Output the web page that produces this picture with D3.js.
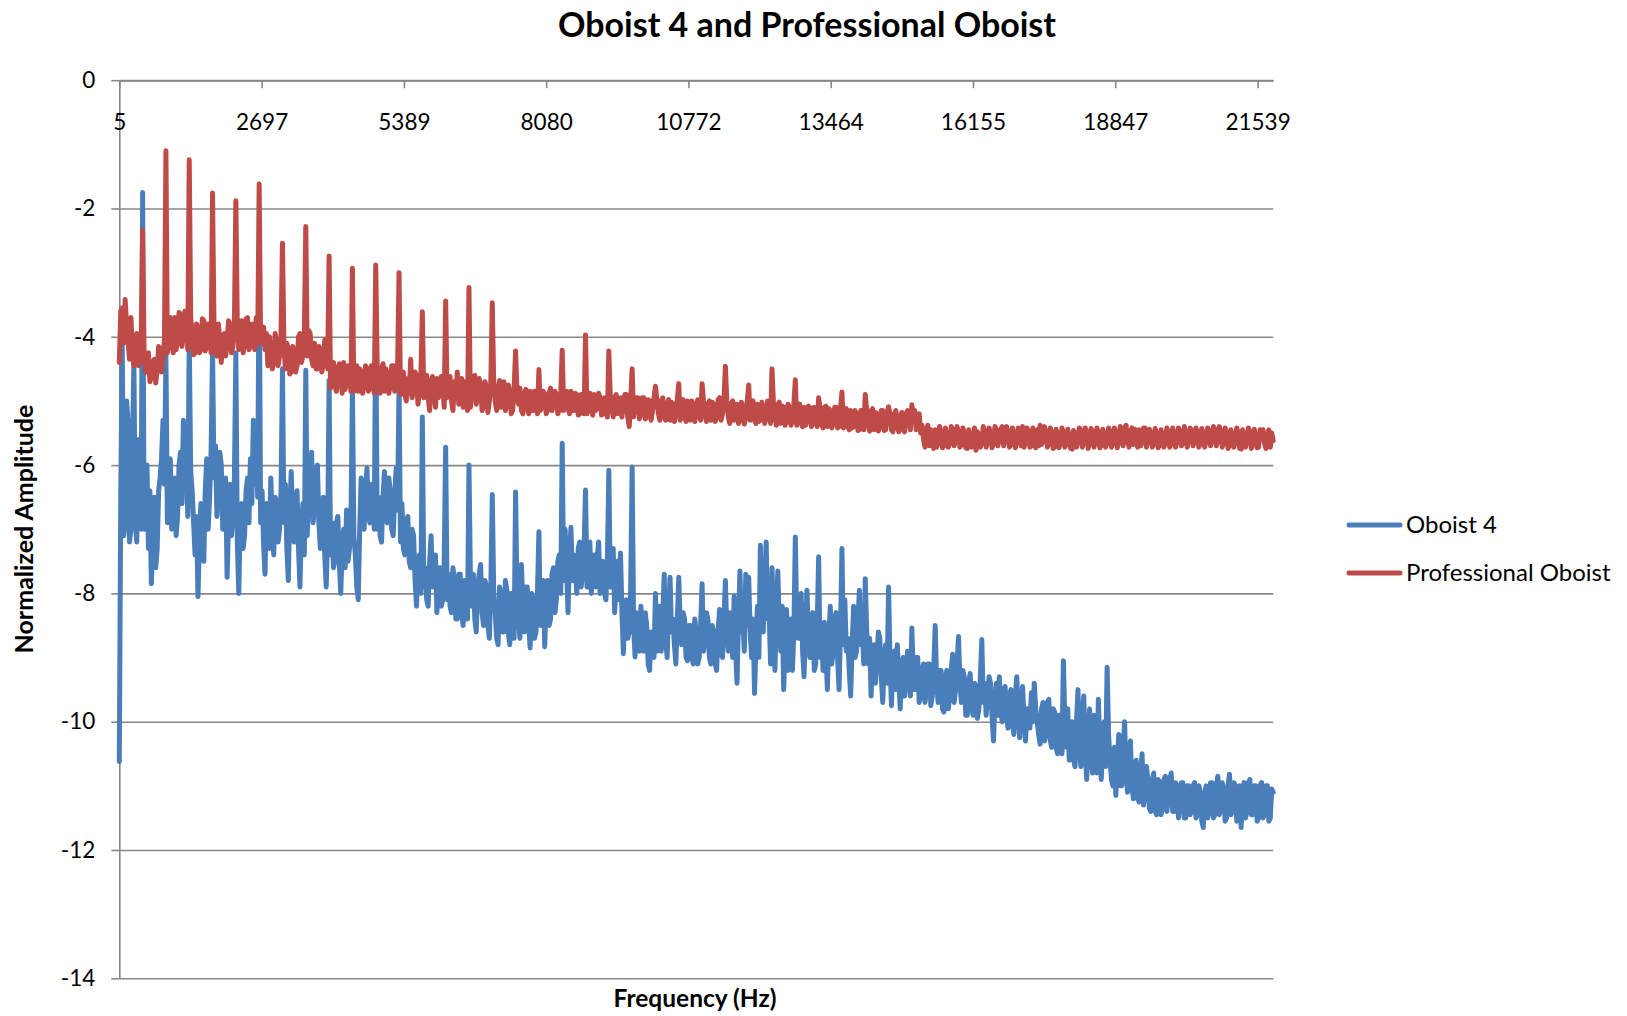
<!DOCTYPE html>
<html>
<head>
<meta charset="utf-8">
<title>Oboist 4 and Professional Oboist</title>
<script src="https://cdn.jsdelivr.net/npm/d3@7"></script>
<style>
  html, body { margin: 0; padding: 0; background: #ffffff; }
  svg { display: block; font-family: Lato, "Open Sans", "Noto Sans", sans-serif; }
</style>
</head>
<body>
<svg id="chart" width="1627" height="1016"></svg>
<script>
// ---- chart text ----
const chartTitle = "Oboist 4 and Professional Oboist";
const xAxisTitle = "Frequency (Hz)";
const yAxisTitle = "Normalized Amplitude";
const seriesNames = ["Oboist 4", "Professional Oboist"];

// ---- axes ----
const freqTickLabels = [5, 2697, 5389, 8080, 10772, 13464, 16155, 18847, 21539];
const ampTicks = [0, -2, -4, -6, -8, -10, -12, -14];

// ---- spectrum bins (Hz): 16 bins per 441 Hz harmonic spacing ----
const binStartHz = 5;
const binWidthHz = 27.5625;

// ---- normalized amplitude per bin, Oboist 4 (one row per harmonic) ----
const oboist4 = [
  -10.62,-6.50,-4.10,-7.10,-6.90,-5.00,-5.30,-7.20,-7.00,-5.80,-4.40,-6.90,-7.20,-5.60,-6.30,-7.00,
  -1.75,-7.00,-6.60,-6.00,-7.30,-6.40,-7.85,-7.20,-6.50,-7.60,-7.30,-6.40,-6.20,-5.90,-5.30,-6.30,
  -4.30,-6.90,-6.40,-5.90,-7.00,-6.50,-6.20,-7.10,-6.80,-6.00,-5.80,-6.60,-5.30,-6.40,-6.00,-6.80,
  -4.00,-6.10,-6.40,-6.90,-7.40,-6.80,-8.05,-7.20,-6.60,-7.00,-7.50,-6.40,-5.90,-7.00,-6.50,-5.80,
  -4.20,-6.20,-5.70,-6.80,-6.40,-5.80,-6.00,-7.00,-7.00,-6.20,-7.75,-6.90,-6.30,-7.10,-6.80,-6.20,
  -4.25,-7.20,-8.00,-6.90,-6.60,-7.30,-7.10,-6.40,-6.20,-6.90,-5.90,-6.60,-5.30,-6.30,-5.70,-6.50,
  -2.65,-6.90,-6.40,-7.20,-7.70,-6.60,-6.80,-7.30,-6.20,-6.90,-7.40,-6.50,-6.60,-7.20,-7.00,-6.40,
  -4.50,-6.90,-6.30,-7.30,-7.80,-6.70,-6.10,-6.90,-7.20,-6.50,-6.40,-7.30,-7.90,-7.00,-6.60,-7.40,
  -4.52,-7.10,-6.50,-6.00,-5.80,-6.90,-6.70,-6.10,-6.00,-6.90,-7.30,-6.60,-6.50,-7.40,-7.90,-7.10,
  -4.68,-7.40,-6.90,-7.60,-7.50,-6.90,-6.80,-7.50,-8.00,-7.30,-7.00,-7.60,-6.70,-7.50,-7.30,-6.90,
  -4.78,-7.10,-7.40,-7.90,-8.10,-7.00,-6.20,-6.90,-7.00,-6.40,-6.05,-6.80,-6.90,-6.30,-6.40,-7.00,
  -3.63,-7.00,-6.50,-7.10,-7.20,-6.50,-6.10,-6.80,-6.90,-6.20,-6.40,-7.00,-7.10,-6.50,-6.05,-6.70,
  -4.73,-7.20,-6.60,-7.30,-7.40,-6.90,-6.80,-7.50,-7.60,-7.00,-7.10,-7.80,-8.20,-7.50,-7.40,-8.00,
  -5.25,-7.90,-7.60,-8.10,-8.20,-7.50,-7.10,-7.90,-7.80,-7.40,-8.30,-7.70,-7.60,-8.20,-8.10,-7.50,
  -5.72,-8.10,-7.70,-8.20,-8.30,-7.60,-7.80,-8.40,-8.40,-7.70,-7.70,-8.30,-8.50,-7.80,-7.90,-8.40,
  -6.00,-7.80,-8.20,-7.70,-8.40,-8.60,-7.90,-7.70,-7.55,-8.30,-8.50,-7.80,-7.90,-8.50,-8.70,-7.90,
  -6.46,-8.00,-8.30,-8.70,-8.80,-7.90,-8.00,-8.60,-8.60,-7.80,-7.95,-8.60,-8.80,-8.00,-8.20,-8.70,
  -6.42,-8.10,-8.40,-8.70,-7.55,-8.20,-8.60,-7.90,-7.90,-8.50,-8.85,-8.00,-8.10,-8.70,-8.60,-8.00,
  -7.04,-8.50,-8.20,-7.80,-8.83,-8.10,-7.80,-8.50,-8.40,-7.70,-7.60,-8.30,-8.10,-7.50,-7.40,-8.00,
  -5.66,-7.80,-7.00,-7.60,-8.30,-7.40,-6.97,-7.80,-7.40,-7.60,-8.00,-7.30,-7.20,-7.90,-7.70,-7.30,
  -6.39,-7.90,-7.60,-7.20,-8.00,-7.60,-7.40,-7.90,-7.45,-7.20,-8.00,-7.60,-7.50,-8.00,-8.10,-7.50,
  -6.08,-7.90,-7.60,-7.30,-8.30,-7.80,-7.50,-8.10,-7.37,-8.30,-8.94,-8.20,-8.10,-8.70,-8.60,-7.90,
  -6.03,-8.50,-8.99,-8.30,-8.40,-8.90,-8.20,-8.70,-8.90,-8.30,-8.50,-9.10,-9.20,-8.60,-8.70,-9.00,
  -8.00,-8.90,-8.60,-8.20,-8.90,-8.40,-7.70,-8.70,-9.00,-8.30,-7.75,-8.60,-8.40,-8.80,-9.10,-8.40,
  -7.75,-8.50,-8.80,-8.30,-8.40,-9.00,-9.05,-8.50,-8.50,-9.00,-9.10,-8.40,-8.60,-9.10,-9.00,-8.50,
  -7.85,-8.90,-8.70,-8.30,-8.40,-9.00,-9.10,-8.50,-8.60,-9.10,-9.20,-8.60,-8.25,-8.90,-9.00,-8.40,
  -7.80,-8.60,-8.90,-8.30,-8.40,-9.00,-8.05,-8.90,-9.40,-8.40,-7.65,-8.60,-8.40,-8.90,-7.70,-8.50,
  -7.75,-8.60,-9.00,-8.40,-9.56,-8.80,-8.20,-9.00,-7.25,-8.50,-8.60,-7.80,-7.20,-8.40,-8.30,-9.10,
  -7.60,-8.40,-9.20,-8.30,-7.65,-8.50,-8.90,-8.20,-9.50,-8.80,-8.25,-9.20,-8.90,-8.40,-9.20,-8.60,
  -7.12,-8.50,-8.70,-8.20,-8.00,-8.90,-9.30,-8.50,-7.95,-8.70,-9.00,-8.40,-8.30,-9.20,-9.10,-8.50,
  -7.43,-9.00,-8.60,-9.20,-8.45,-8.90,-9.50,-8.70,-8.20,-9.10,-8.90,-8.40,-8.30,-9.00,-9.50,-8.60,
  -7.30,-8.80,-8.10,-8.90,-8.70,-9.20,-9.60,-8.80,-8.20,-9.00,-8.90,-8.40,-7.95,-8.80,-8.60,-9.10,
  -7.77,-8.60,-9.10,-8.70,-9.60,-9.00,-8.80,-9.40,-9.00,-8.60,-8.70,-9.30,-9.70,-9.00,-8.80,-9.40,
  -7.90,-9.10,-9.75,-9.00,-8.90,-9.50,-8.80,-9.30,-9.80,-9.10,-9.00,-9.60,-9.40,-8.90,-9.00,-9.60,
  -8.54,-9.30,-9.50,-9.00,-9.00,-9.70,-9.60,-9.20,-9.10,-9.70,-9.55,-9.10,-9.10,-9.75,-9.60,-9.20,
  -8.50,-9.40,-9.70,-9.20,-9.20,-9.80,-9.85,-9.30,-9.20,-9.80,-9.60,-9.20,-8.95,-9.70,-9.50,-9.10,
  -8.67,-9.40,-9.70,-9.20,-9.30,-9.90,-9.90,-9.40,-9.25,-9.80,-9.90,-9.40,-9.45,-9.95,-9.80,-9.30,
  -8.72,-9.70,-9.40,-9.90,-9.60,-9.30,-9.40,-9.90,-10.30,-9.70,-9.40,-9.90,-9.30,-9.80,-10.00,-9.50,
  -9.45,-9.90,-10.10,-9.60,-9.50,-10.00,-10.20,-9.60,-9.30,-9.90,-10.25,-9.70,-9.45,-10.00,-10.30,-9.80,
  -9.80,-10.10,-9.55,-10.00,-9.40,-9.80,-10.00,-10.20,-10.35,-9.80,-9.70,-10.30,-10.20,-9.70,-9.65,-10.30,
  -10.40,-9.80,-9.85,-10.40,-10.50,-9.90,-9.90,-10.50,-9.05,-10.00,-10.40,-9.80,-10.60,-10.20,-10.00,-10.60,
  -10.70,-10.00,-9.50,-10.40,-10.70,-9.90,-9.60,-10.50,-10.90,-10.10,-9.80,-10.60,-10.80,-9.90,-10.20,-10.80,
  -9.65,-10.40,-10.90,-10.20,-10.00,-10.70,-9.15,-10.20,-10.60,-10.90,-11.00,-10.40,-11.15,-10.60,-10.20,-11.00,
  -11.00,-10.40,-10.00,-10.80,-11.10,-10.50,-10.30,-11.00,-11.20,-10.70,-10.60,-11.20,-11.25,-10.80,-10.50,-11.30,
  -11.10,-10.70,-10.90,-11.35,-11.40,-10.90,-10.80,-11.40,-11.45,-10.90,-10.95,-11.45,-11.35,-10.90,-10.85,-11.40,
  -11.20,-10.90,-10.80,-11.40,-11.40,-10.95,-11.00,-11.50,-11.35,-10.95,-10.95,-11.50,-11.50,-11.00,-11.00,-11.45,
  -11.40,-11.00,-10.95,-11.50,-11.45,-11.00,-11.10,-11.55,-11.65,-11.10,-11.00,-11.50,-11.40,-10.95,-10.95,-11.50,
  -11.45,-11.00,-10.85,-11.45,-11.35,-10.95,-11.05,-11.55,-11.50,-11.00,-10.82,-11.45,-11.40,-10.95,-11.00,-11.55,
  -11.45,-11.00,-11.65,-11.10,-10.95,-11.50,-11.40,-10.95,-10.90,-11.45,-11.45,-11.00,-11.00,-11.55,-11.50,-11.00,
  -10.95,-11.50,-11.45,-11.00,-11.00,-11.55,-11.50,-11.05,-11.10
];

// ---- normalized amplitude per bin, Professional Oboist (one row per harmonic) ----
const professionalOboist = [
  -4.40,-3.60,-3.55,-4.10,-3.42,-3.80,-4.05,-4.35,-3.70,-4.20,-4.45,-4.05,-3.95,-4.45,-4.40,-4.10,
  -2.34,-4.20,-4.55,-4.30,-4.25,-4.70,-4.62,-4.40,-4.35,-4.72,-4.50,-4.15,-4.20,-4.55,-4.30,-4.05,
  -1.10,-4.25,-3.95,-3.70,-4.10,-4.25,-3.70,-4.20,-4.05,-3.62,-3.65,-4.15,-3.95,-3.60,-3.70,-4.20,
  -1.24,-3.70,-3.95,-4.28,-4.25,-3.80,-3.85,-4.25,-4.20,-3.72,-3.75,-4.22,-4.15,-3.80,-3.85,-4.25,
  -1.76,-3.85,-4.20,-4.30,-3.80,-4.05,-4.40,-4.00,-3.95,-4.30,-4.10,-3.75,-3.80,-4.25,-4.15,-3.80,
  -1.88,-3.80,-4.20,-4.00,-3.75,-4.25,-4.10,-3.72,-3.70,-4.20,-4.15,-3.80,-3.85,-4.20,-3.70,-4.10,
  -1.62,-4.10,-3.90,-3.85,-4.20,-3.95,-4.45,-4.00,-4.20,-4.50,-4.40,-3.95,-4.15,-4.45,-4.30,-3.95,
  -2.54,-4.15,-4.50,-4.10,-4.20,-4.58,-4.55,-4.15,-4.25,-4.55,-4.45,-4.00,-3.95,-4.40,-4.30,-3.95,
  -2.28,-4.30,-3.90,-3.95,-4.35,-4.45,-4.10,-4.50,-4.50,-4.15,-4.25,-4.55,-4.40,-4.05,-4.20,-4.50,
  -2.74,-4.80,-4.45,-4.40,-4.75,-4.85,-4.50,-4.42,-4.65,-4.88,-4.40,-4.82,-4.70,-4.45,-4.55,-4.85,
  -2.93,-4.85,-4.60,-4.45,-4.85,-4.50,-4.55,-4.88,-4.75,-4.45,-4.50,-4.85,-4.80,-4.45,-4.60,-4.88,
  -2.88,-4.45,-4.70,-4.88,-4.50,-4.42,-4.85,-4.50,-4.60,-4.88,-4.75,-4.45,-4.45,-4.85,-4.70,-4.48,
  -3.00,-4.90,-4.65,-4.55,-4.90,-5.00,-4.65,-4.88,-4.35,-4.95,-4.80,-4.55,-4.60,-5.05,-4.85,-4.60,
  -3.61,-4.95,-4.75,-4.60,-4.95,-5.15,-4.70,-4.62,-4.85,-5.10,-4.65,-4.95,-4.90,-4.62,-4.75,-5.10,
  -3.44,-4.95,-4.80,-4.62,-5.00,-5.15,-4.70,-4.95,-4.55,-5.05,-4.90,-4.65,-5.10,-4.70,-4.85,-5.15,
  -3.23,-5.10,-4.85,-4.62,-4.60,-5.05,-4.95,-4.65,-4.75,-5.15,-5.05,-4.70,-4.80,-5.18,-5.00,-4.70,
  -3.47,-4.75,-5.00,-5.15,-4.80,-4.68,-5.10,-4.85,-4.70,-5.15,-5.05,-4.75,-4.85,-5.20,-5.15,-4.80,
  -4.22,-4.90,-5.05,-4.80,-5.15,-5.20,-4.90,-4.82,-5.10,-5.20,-4.85,-5.15,-5.15,-4.85,-4.95,-5.20,
  -4.51,-5.15,-5.10,-4.85,-4.90,-5.20,-5.15,-4.88,-4.80,-5.15,-5.05,-4.85,-4.90,-5.20,-5.15,-4.90,
  -4.21,-5.15,-4.95,-4.85,-5.10,-5.20,-4.85,-5.15,-5.15,-4.88,-4.90,-5.22,-5.20,-4.90,-4.95,-5.20,
  -3.97,-5.20,-5.00,-4.88,-5.15,-5.22,-4.90,-5.15,-5.10,-4.88,-4.95,-5.22,-5.20,-4.95,-5.00,-5.25,
  -4.22,-4.92,-5.10,-5.25,-4.95,-4.90,-5.20,-5.00,-4.95,-5.25,-5.05,-4.90,-4.90,-5.25,-5.40,-5.00,
  -4.50,-5.25,-5.10,-4.95,-4.95,-5.28,-5.20,-4.95,-4.95,-5.28,-5.25,-4.98,-5.00,-5.30,-5.15,-4.95,
  -4.77,-5.00,-5.20,-5.30,-5.00,-4.95,-5.25,-5.30,-5.05,-4.98,-5.30,-5.02,-5.05,-5.32,-5.20,-4.98,
  -4.73,-5.30,-5.05,-4.98,-5.25,-5.32,-5.00,-5.28,-5.30,-5.00,-5.05,-5.32,-5.20,-4.98,-5.00,-5.30,
  -4.73,-5.00,-5.20,-5.32,-5.05,-5.00,-5.30,-5.02,-5.05,-5.32,-5.25,-4.98,-4.95,-5.30,-5.20,-5.00,
  -4.46,-5.00,-5.25,-5.35,-5.05,-5.00,-5.30,-5.05,-5.05,-5.35,-5.30,-5.02,-5.10,-5.36,-5.25,-5.00,
  -4.75,-5.30,-5.05,-5.00,-5.30,-5.35,-5.05,-5.32,-5.30,-5.02,-5.10,-5.35,-5.25,-5.00,-5.05,-5.35,
  -4.50,-5.05,-5.25,-5.38,-5.05,-5.02,-5.35,-5.08,-5.10,-5.38,-5.30,-5.05,-5.10,-5.38,-5.30,-5.05,
  -4.67,-5.38,-5.15,-5.05,-5.35,-5.40,-5.10,-5.38,-5.30,-5.08,-5.10,-5.40,-5.35,-5.10,-5.15,-5.40,
  -4.95,-5.12,-5.35,-5.42,-5.10,-5.08,-5.40,-5.12,-5.15,-5.42,-5.35,-5.10,-5.10,-5.42,-5.40,-5.12,
  -4.86,-5.42,-5.15,-5.12,-5.40,-5.45,-5.15,-5.42,-5.40,-5.15,-5.20,-5.46,-5.45,-5.15,-5.15,-5.45,
  -4.90,-5.15,-5.35,-5.47,-5.15,-5.12,-5.45,-5.18,-5.20,-5.47,-5.40,-5.15,-5.15,-5.46,-5.45,-5.18,
  -5.09,-5.20,-5.45,-5.48,-5.20,-5.15,-5.40,-5.48,-5.25,-5.18,-5.45,-5.48,-5.20,-5.15,-5.30,-5.45,
  -5.06,-5.30,-5.15,-5.45,-5.25,-5.20,-5.50,-5.38,-5.60,-5.72,-5.45,-5.38,-5.70,-5.45,-5.50,-5.74,
  -5.45,-5.72,-5.65,-5.40,-5.50,-5.73,-5.70,-5.42,-5.55,-5.72,-5.65,-5.40,-5.45,-5.70,-5.60,-5.40,
  -5.50,-5.72,-5.68,-5.42,-5.52,-5.73,-5.74,-5.45,-5.55,-5.72,-5.62,-5.42,-5.77,-5.48,-5.55,-5.72,
  -5.65,-5.40,-5.48,-5.72,-5.62,-5.42,-5.50,-5.73,-5.66,-5.40,-5.45,-5.70,-5.60,-5.44,-5.40,-5.70,
  -5.58,-5.40,-5.50,-5.72,-5.68,-5.42,-5.52,-5.73,-5.64,-5.42,-5.47,-5.70,-5.40,-5.72,-5.62,-5.42,
  -5.48,-5.72,-5.70,-5.42,-5.55,-5.73,-5.45,-5.70,-5.38,-5.68,-5.60,-5.40,-5.50,-5.72,-5.66,-5.42,
  -5.52,-5.74,-5.72,-5.44,-5.55,-5.73,-5.65,-5.42,-5.50,-5.72,-5.68,-5.44,-5.55,-5.74,-5.75,-5.46,
  -5.52,-5.72,-5.62,-5.42,-5.47,-5.72,-5.63,-5.42,-5.50,-5.74,-5.66,-5.43,-5.48,-5.72,-5.62,-5.42,
  -5.52,-5.73,-5.70,-5.44,-5.55,-5.72,-5.64,-5.42,-5.48,-5.72,-5.66,-5.42,-5.52,-5.73,-5.62,-5.40,
  -5.46,-5.70,-5.42,-5.38,-5.60,-5.72,-5.50,-5.42,-5.68,-5.44,-5.55,-5.72,-5.45,-5.70,-5.63,-5.42,
  -5.42,-5.72,-5.58,-5.44,-5.50,-5.72,-5.66,-5.43,-5.52,-5.73,-5.70,-5.45,-5.56,-5.72,-5.64,-5.42,
  -5.50,-5.72,-5.67,-5.42,-5.53,-5.72,-5.62,-5.42,-5.48,-5.70,-5.65,-5.40,-5.52,-5.72,-5.60,-5.42,
  -5.47,-5.70,-5.63,-5.42,-5.50,-5.72,-5.66,-5.43,-5.52,-5.72,-5.60,-5.42,-5.47,-5.70,-5.62,-5.40,
  -5.45,-5.70,-5.58,-5.40,-5.48,-5.72,-5.64,-5.42,-5.50,-5.74,-5.70,-5.45,-5.55,-5.72,-5.62,-5.42,
  -5.52,-5.74,-5.75,-5.45,-5.55,-5.72,-5.63,-5.42,-5.50,-5.74,-5.66,-5.44,-5.55,-5.73,-5.72,-5.45,
  -5.58,-5.45,-5.65,-5.74,-5.55,-5.45,-5.72,-5.50,-5.62
];

const seriesColors = ["#4a7ebb", "#be4b48"];

// ---- layout ----
const W = 1627, H = 1016;
const plot = { left: 119.3, right: 1273.2, top: 80.2, bottom: 978.3 };
const gridColor = "#878787";
const labelFont = "Lato, 'Open Sans', sans-serif";

const svg = d3.select("#chart");
svg.append("rect").attr("width", W).attr("height", H).attr("fill", "#ffffff");

const lastHz = binStartHz + binWidthHz * (oboist4.length - 1);
const x = d3.scaleLinear().domain([binStartHz, lastHz]).range([plot.left, plot.right]);
const y = d3.scaleLinear().domain([0, -14]).range([plot.top, plot.bottom]);

// horizontal gridlines
const grid = svg.append("g")
  .attr("transform", `translate(${plot.left},0)`)
  .call(d3.axisLeft(y).tickValues(ampTicks).tickSize(-(plot.right - plot.left)).tickFormat(""));
grid.select(".domain").remove();
grid.selectAll("line").attr("stroke", gridColor).attr("stroke-width", 1.6);

// y axis with labels
const yAxis = svg.append("g")
  .attr("transform", `translate(${plot.left},0)`)
  .call(d3.axisLeft(y).tickValues(ampTicks).tickSize(8).tickPadding(16).tickSizeOuter(0)
    .tickFormat(d => d === 0 ? "0" : "-" + Math.abs(d)));
yAxis.select(".domain").attr("stroke", gridColor).attr("stroke-width", 1.6);
yAxis.selectAll("line").attr("stroke", gridColor).attr("stroke-width", 1.6);
yAxis.selectAll("text").attr("font-size", 22.5).attr("fill", "#000").style("font-family", labelFont);

// x axis sits on the zero line
const xAxis = svg.append("g")
  .attr("transform", `translate(0,${y(0)})`)
  .call(d3.axisBottom(x).tickValues(freqTickLabels).tickSize(8).tickPadding(26).tickSizeOuter(0)
    .tickFormat(d => String(d)));
xAxis.select(".domain").attr("stroke", gridColor).attr("stroke-width", 2);
xAxis.selectAll("line").attr("stroke", gridColor).attr("stroke-width", 1.6);
xAxis.selectAll("text").attr("font-size", 22.5).attr("fill", "#000").style("font-family", labelFont);

// spectra (Professional Oboist drawn last, on top)
const series = [oboist4, professionalOboist];
const line = d3.line()
  .x((d, i) => x(binStartHz + binWidthHz * i))
  .y(d => y(d));

svg.append("g").selectAll("path")
  .data(series)
  .join("path")
  .attr("d", d => line(d))
  .attr("fill", "none")
  .attr("stroke", (d, i) => seriesColors[i])
  .attr("stroke-width", 5)
  .attr("stroke-linejoin", "round")
  .attr("stroke-linecap", "round");

// title
svg.append("text")
  .attr("x", 807).attr("y", 37)
  .attr("text-anchor", "middle")
  .attr("font-size", 34).attr("font-weight", 700).attr("fill", "#000")
  .text(chartTitle);

// axis titles
svg.append("text")
  .attr("x", 695).attr("y", 1007)
  .attr("text-anchor", "middle")
  .attr("font-size", 24.5).attr("font-weight", 700).attr("fill", "#000")
  .text(xAxisTitle);

svg.append("text")
  .attr("transform", "translate(33,529) rotate(-90)")
  .attr("text-anchor", "middle")
  .attr("font-size", 25).attr("font-weight", 700).attr("fill", "#000")
  .text(yAxisTitle);

// legend
const legend = svg.append("g").selectAll("g")
  .data(seriesNames)
  .join("g")
  .attr("transform", (d, i) => `translate(1349,${525 + i * 48})`);
legend.append("line")
  .attr("x1", 0).attr("x2", 51).attr("y1", 0).attr("y2", 0)
  .attr("stroke", (d, i) => seriesColors[i])
  .attr("stroke-width", 5).attr("stroke-linecap", "round");
legend.append("text")
  .attr("x", 57).attr("y", 0).attr("dy", "0.35em")
  .attr("font-size", 24).attr("fill", "#000")
  .text(d => d);
</script>
</body>
</html>
